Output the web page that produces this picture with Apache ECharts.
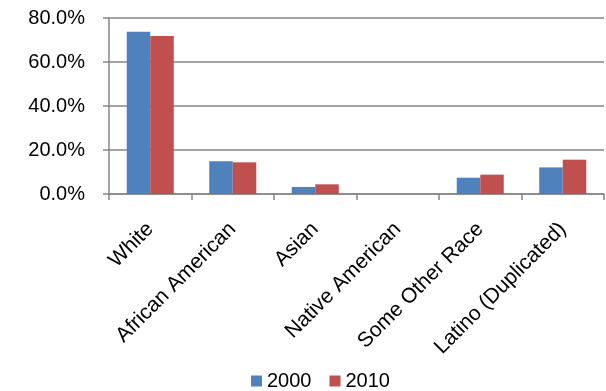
<!DOCTYPE html>
<html><head><meta charset="utf-8">
<script src="https://cdn.jsdelivr.net/npm/echarts@6/dist/echarts.min.js"></script>
<style>html,body{margin:0;padding:0;background:#fff}#c{width:606px;height:391px}</style>
</head><body><div id="c"></div>
<script>
const categories = ["White", "African American", "Asian", "Native American", "Some Other Race", "Latino (Duplicated)"];
const values2000 = [73.8, 14.9, 3.2, 0, 7.4, 12.1];
const values2010 = [71.8, 14.4, 4.4, 0, 8.8, 15.6];
const seriesNames = ["2000", "2010"];
const yTicks = [0, 20, 40, 60, 80];

const chart = echarts.init(document.getElementById('c'));
const font = 'Liberation Sans, Arial, sans-serif';
chart.setOption({
  animation: false,
  grid: {left: 109, right: 2, top: 18, bottom: 197, containLabel: false},
  legend: {
    data: seriesNames, top: 371, left: 251, itemWidth: 11, itemHeight: 11, itemGap: 18, padding: 0,
    icon: 'rect', textStyle: {fontFamily: font, fontSize: 20, color: '#000'}
  },
  xAxis: {
    type: 'category', data: categories,
    axisLine: {lineStyle: {color: '#868686', width: 1.5}},
    axisTick: {show: true, length: 6, lineStyle: {color: '#868686', width: 1.5}},
    axisLabel: {rotate: 45, interval: 0, fontFamily: font, fontSize: 21, color: '#000', margin: 32}
  },
  yAxis: {
    type: 'value', min: yTicks[0], max: yTicks[yTicks.length-1], interval: 20,
    axisLine: {show: true, lineStyle: {color: '#868686', width: 1.5}},
    axisTick: {show: true, length: 6, lineStyle: {color: '#868686', width: 1.5}},
    splitLine: {lineStyle: {color: '#868686', width: 1.5}},
    axisLabel: {fontFamily: font, fontSize: 20, color: '#000', margin: 24, formatter: v => v.toFixed(1) + '%'}
  },
  series: [
    {name: seriesNames[0], type: 'bar', data: values2000, barGap: '0%', barCategoryGap: '43%',
     itemStyle: {color: '#4F81BD'}},
    {name: seriesNames[1], type: 'bar', data: values2010, barGap: '0%', barCategoryGap: '43%',
     itemStyle: {color: '#C0504D'}}
  ]
});
</script></body></html>
